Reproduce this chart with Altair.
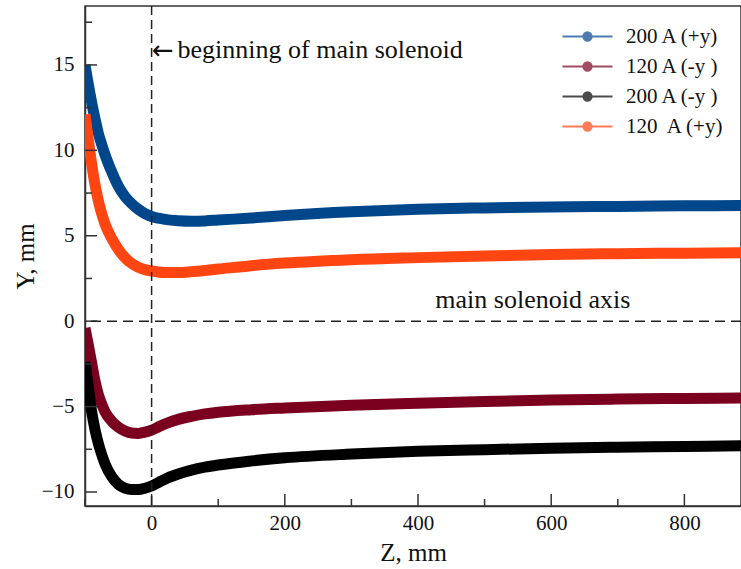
import altair as alt
import pandas as pd

# ---- data ----
Z = [-100, -95, -90, -85, -80, -75, -70, -60, -50, -40, -30, -20, -10, 0, 10, 20, 40, 60,
     80, 100, 150, 200, 300, 400, 500, 600, 700, 800, 885]

Y_200_POS = [15.0, 13.85, 12.8, 11.85, 11.0, 10.35, 9.75, 8.75, 7.9, 7.3, 6.88, 6.55,
             6.3, 6.13, 6.03, 5.96, 5.88, 5.85, 5.87, 5.92, 6.04, 6.18, 6.4, 6.55, 6.63,
             6.68, 6.72, 6.75, 6.77]
Y_120_NEG = [-0.4, -1.4, -2.45, -3.5, -4.3, -4.85, -5.3, -5.85, -6.2, -6.43, -6.55, -6.57,
             -6.5, -6.38, -6.2, -6.02, -5.75, -5.57, -5.43, -5.33, -5.18, -5.08, -4.92,
             -4.8, -4.7, -4.62, -4.56, -4.52, -4.5]
Y_200_NEG = [-2.4, -3.9, -5.3, -6.35, -7.15, -7.8, -8.35, -9.1, -9.55, -9.78, -9.86, -9.86,
             -9.78, -9.65, -9.45, -9.25, -8.95, -8.72, -8.55, -8.42, -8.18, -8.0, -7.78,
             -7.62, -7.52, -7.44, -7.38, -7.34, -7.3]
Y_120_POS = [12.1, 10.6, 9.2, 8.0, 7.05, 6.3, 5.7, 4.85, 4.2, 3.72, 3.38, 3.15, 3.02, 2.94,
             2.88, 2.85, 2.85, 2.9, 2.97, 3.05, 3.25, 3.4, 3.6, 3.72, 3.82, 3.9, 3.95, 3.98,
             4.0]

SERIES = ["200 A (+y)", "120 A (-y )", "200 A (-y )", "120\u00a0 A (+y)"]
COLORS = ["#00468b", "#7b0020", "#000000", "#ff4512"]

X_MAJOR = [0, 200, 400, 600, 800]
X_MINOR = [-100, 100, 300, 500, 700]
Y_MAJOR = [-10, -5, 0, 5, 10, 15]
Y_MINOR = [-7.5, -2.5, 2.5, 7.5, 12.5, 17.5]

rows = []
for name, ys in zip(SERIES, [Y_200_POS, Y_120_NEG, Y_200_NEG, Y_120_POS]):
    for z, y in zip(Z, ys):
        rows.append({"z": z, "y": y, "series": name})
df = pd.DataFrame(rows)

FONT = "Liberation Serif"
xscale = alt.Scale(domain=[-100, 885], nice=False, zero=False)
yscale = alt.Scale(domain=[-10.82, 18.45], nice=False, zero=False)
cscale = alt.Scale(domain=SERIES, range=COLORS)


def xaxis():
    return alt.Axis(values=X_MAJOR, title="Z, mm", labelPadding=6, titlePadding=7)


def yaxis():
    return alt.Axis(values=Y_MAJOR, title="Y, mm", labelPadding=11, titlePadding=3)


SYMBOL = "M-2,0H2M0.34,0A0.34,0.34,0,1,1,-0.34,0A0.34,0.34,0,1,1,0.34,0Z"


def make_legend():
    return alt.Legend(title=None, orient="none", legendX=489, legendY=17,
                      symbolType=SYMBOL, symbolSize=625, symbolStrokeWidth=1.8,
                      labelOffset=25, rowPadding=6, labelFont=FONT,
                      labelFontSize=21, labelColor="#111", labelLimit=300)


lines = alt.Chart(df).mark_line(strokeWidth=11, interpolate="monotone", clip=True).encode(
    x=alt.X("z:Q", scale=xscale, axis=xaxis()),
    y=alt.Y("y:Q", scale=yscale, axis=yaxis()),
    color=alt.Color("series:N", scale=cscale, sort=SERIES, legend=make_legend()),
)

# legend-only layer (no rows survive the filter) so symbols get fill and stroke
legend_pts = alt.Chart(df).transform_filter("false").mark_point(filled=True).encode(
    x=alt.X("z:Q", scale=xscale, axis=xaxis()),
    y=alt.Y("y:Q", scale=yscale, axis=yaxis()),
    color=alt.Color("series:N", scale=cscale, sort=SERIES, legend=make_legend()),
    stroke=alt.Stroke("series:N", scale=cscale, sort=SERIES, legend=make_legend()),
)

RULE = dict(color="#333", strokeWidth=1.5)
xmaj = alt.Chart(pd.DataFrame({"z": X_MAJOR})).mark_rule(**RULE).encode(
    x=alt.X("z:Q", scale=xscale, axis=xaxis()), y=alt.value(500), y2=alt.value(488))
xmin = alt.Chart(pd.DataFrame({"z": X_MINOR})).mark_rule(**RULE).encode(
    x=alt.X("z:Q", scale=xscale, axis=xaxis()), y=alt.value(500), y2=alt.value(493))
ymaj = alt.Chart(pd.DataFrame({"y": Y_MAJOR})).mark_rule(**RULE).encode(
    y=alt.Y("y:Q", scale=yscale, axis=yaxis()), x=alt.value(0), x2=alt.value(12))
ymin = alt.Chart(pd.DataFrame({"y": Y_MINOR})).mark_rule(**RULE).encode(
    y=alt.Y("y:Q", scale=yscale, axis=yaxis()), x=alt.value(0), x2=alt.value(7))

vdash = alt.Chart().mark_rule(color="#222", strokeWidth=1.5, strokeDash=[9, 5]).encode(
    x=alt.X(datum=0, scale=xscale, axis=xaxis()))
hdash = alt.Chart().mark_rule(color="#222", strokeWidth=1.5, strokeDash=[10, 6]).encode(
    y=alt.Y(datum=0, scale=yscale, axis=yaxis()))

arrow = alt.Chart().mark_text(align="left", baseline="alphabetic", font="DejaVu Sans",
                              fontSize=26, color="#111", dy=1).encode(
    x=alt.X(datum=0.5, scale=xscale, axis=xaxis()),
    y=alt.Y(datum=15.4, scale=yscale, axis=yaxis()),
    text=alt.value("\u2190"))
txt1 = alt.Chart().mark_text(align="left", baseline="alphabetic", font=FONT, fontSize=26,
                             color="#111").encode(
    x=alt.X(datum=39, scale=xscale, axis=xaxis()),
    y=alt.Y(datum=15.4, scale=yscale, axis=yaxis()),
    text=alt.value("beginning of main solenoid"))
txt2 = alt.Chart().mark_text(align="left", baseline="alphabetic", font=FONT, fontSize=26,
                             color="#111").encode(
    x=alt.X(datum=426, scale=xscale, axis=xaxis()),
    y=alt.Y(datum=0.78, scale=yscale, axis=yaxis()),
    text=alt.value("main solenoid axis"))

chart = alt.layer(lines, legend_pts, xmaj, xmin, ymaj, ymin, vdash, hdash,
                  arrow, txt1, txt2).properties(
    width=656, height=500,
    autosize=alt.AutoSizeParams(type="none"),
    padding={"left": 85, "top": 6, "right": 0, "bottom": 63},
    background="white",
).configure_view(stroke="#333", strokeWidth=1.5).configure_axis(
    domainColor="#333", domainWidth=1.5, ticks=False, grid=False,
    labelFont=FONT, titleFont=FONT, labelFontSize=21, titleFontSize=25,
    titleFontWeight="normal", labelColor="#111", titleColor="#111",
)

chart.save("out.html", embed_options={"renderer": "svg", "actions": False})
